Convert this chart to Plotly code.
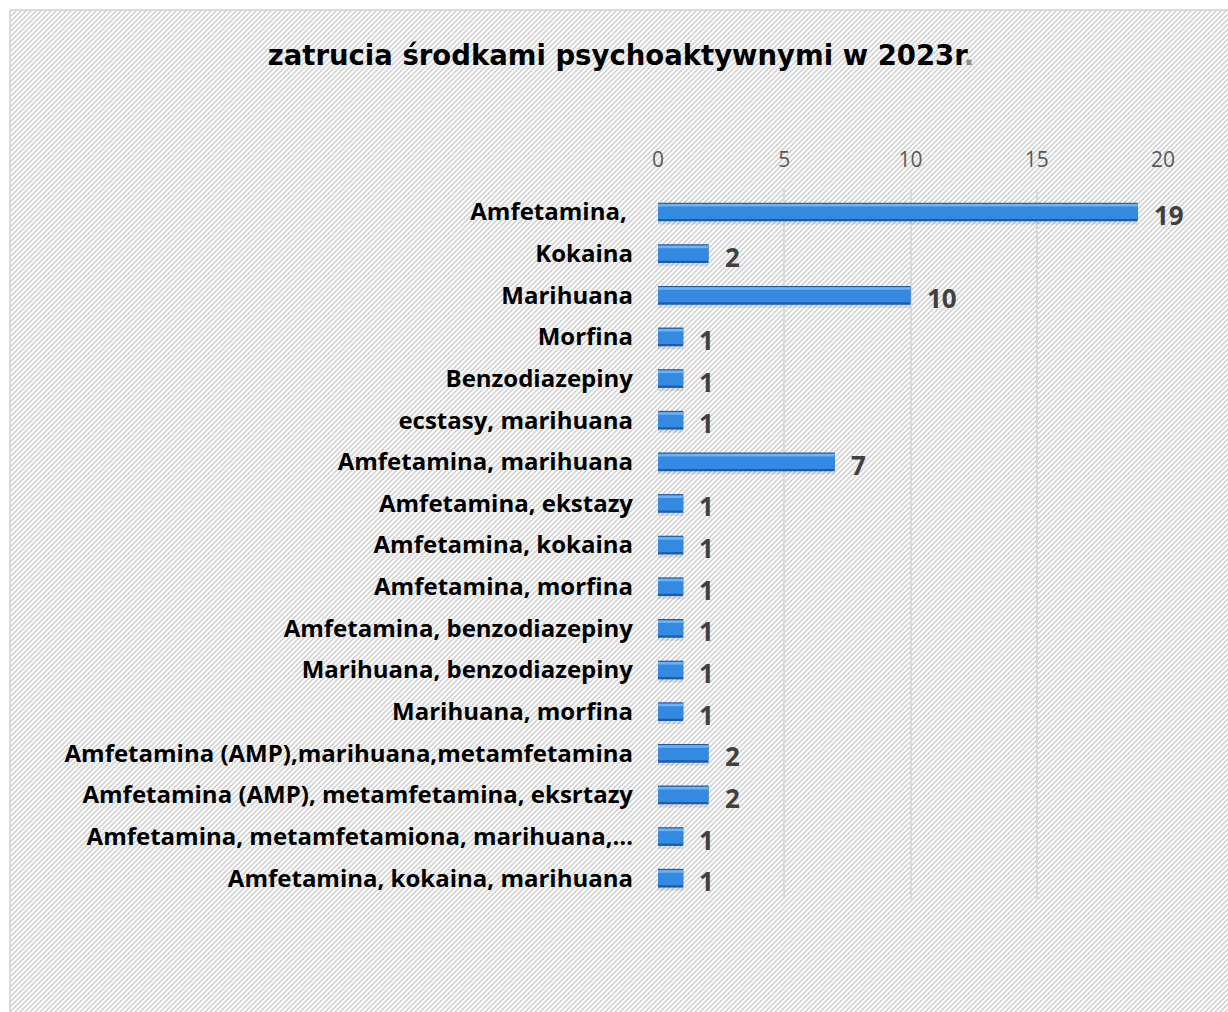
import base64
import plotly.graph_objects as go

# Poisoning cases by psychoactive substance, 2023
categories = [
    "Amfetamina,\u00a0",
    "Kokaina",
    "Marihuana",
    "Morfina",
    "Benzodiazepiny",
    "ecstasy, marihuana",
    "Amfetamina, marihuana",
    "Amfetamina, ekstazy",
    "Amfetamina, kokaina",
    "Amfetamina, morfina",
    "Amfetamina, benzodiazepiny",
    "Marihuana, benzodiazepiny",
    "Marihuana, morfina",
    "Amfetamina (AMP),marihuana,metamfetamina",
    "Amfetamina (AMP), metamfetamina, eksrtazy",
    "Amfetamina, metamfetamiona, marihuana,…",
    "Amfetamina, kokaina, marihuana",
]
counts = [19, 2, 10, 1, 1, 1, 7, 1, 1, 1, 1, 1, 1, 2, 2, 1, 1]
tick_values = [0, 5, 10, 15, 20]

W, H = 1228, 1012
M_L, M_R, M_T, M_B = 658, 65, 189, 113
PW, PH = W - M_L - M_R, H - M_T - M_B


def px_x(px):
    return (px - M_L) / PW


def px_y(py):
    return 1 - (py - M_T) / PH


# Diagonal hatch used as the chart-area background (runs past the page edges)
hx0, hy0 = 11, 11
hw, hh = W + 30 - hx0, H + 30 - hy0
svg = (
    f'<svg xmlns="http://www.w3.org/2000/svg" width="{hw}" height="{hh}">'
    '<defs><pattern id="h" width="5" height="5" patternUnits="userSpaceOnUse">'
    '<path d="M0,5 L5,0 M-1,1 L1,-1 M4,6 L6,4" stroke="#cdcdcd" stroke-width="1.5"/>'
    '</pattern></defs>'
    f'<rect width="{hw}" height="{hh}" fill="#ffffff"/>'
    f'<rect width="{hw}" height="{hh}" fill="url(#h)"/>'
    '</svg>'
)
hatch_uri = "data:image/svg+xml;base64," + base64.b64encode(svg.encode()).decode()

fig = go.Figure()

# soft drop shadow
fig.add_trace(go.Bar(
    x=counts, y=categories, orientation="h",
    width=0.5, offset=-0.2,
    marker=dict(color="rgba(0,0,0,0.10)", line=dict(width=0)),
    hoverinfo="skip", showlegend=False,
))
# dark bevel edge
fig.add_trace(go.Bar(
    x=counts, y=categories, orientation="h",
    width=0.45, offset=-0.225,
    marker=dict(color="#1d5ba6", line=dict(width=0)),
    showlegend=False,
))
# main face
fig.add_trace(go.Bar(
    x=counts, y=categories, orientation="h",
    width=0.37, offset=-0.2,
    marker=dict(color="#3489e0", line=dict(width=0)),
    hoverinfo="skip", showlegend=False,
))
# top highlight
fig.add_trace(go.Bar(
    x=counts, y=categories, orientation="h",
    width=0.06, offset=-0.19,
    marker=dict(color="#6db3f3", line=dict(width=0)),
    hoverinfo="skip", showlegend=False,
))

annotations = [
    dict(
        x=v, y=c, xref="x", yref="y", text=str(v),
        showarrow=False, xanchor="left", yanchor="middle",
        xshift=14, yshift=-3,
        font=dict(family="Open Sans", size=26, color="#404040", weight="bold"),
    )
    for c, v in zip(categories, counts)
]

fig.update_layout(
    width=W, height=H,
    margin=dict(l=M_L, r=M_R, t=M_T, b=M_B, autoexpand=False),
    paper_bgcolor="#ffffff",
    plot_bgcolor="rgba(0,0,0,0)",
    barmode="overlay",
    title=dict(
        text="zatrucia środkami psychoaktywnymi w 2023r<span style='color:#8c8c8c'>.</span>",
        x=621 / W, xanchor="center", xref="container",
        y=1 - 55 / H, yanchor="middle", yref="container",
        font=dict(family="DejaVu Sans", size=27.5, color="#000000", weight="bold"),
    ),
    xaxis=dict(
        side="top", range=[0, 20], tickvals=tick_values,
        showgrid=True, gridcolor="#d9d9d9", gridwidth=2,
        zeroline=False, showline=False, ticks="",
        ticklabelstandoff=17,
        tickfont=dict(family="Open Sans", size=21, color="#595959"),
        fixedrange=True,
    ),
    yaxis=dict(
        autorange="reversed", showgrid=False, zeroline=False, showline=False,
        ticks="", ticklabelstandoff=24,
        tickfont=dict(family="Open Sans", size=24, color="#000000", weight="bold"),
        fixedrange=True,
    ),
    images=[dict(
        source=hatch_uri, xref="paper", yref="paper",
        x=px_x(hx0), y=px_y(hy0), sizex=hw / PW, sizey=hh / PH,
        xanchor="left", yanchor="top", sizing="stretch", layer="below",
    )],
    shapes=[
        dict(type="line", xref="paper", yref="paper",
             x0=px_x(10), y0=px_y(10), x1=px_x(W + 5), y1=px_y(10),
             line=dict(color="#d9d9d9", width=2), layer="above"),
        dict(type="line", xref="paper", yref="paper",
             x0=px_x(10), y0=px_y(10), x1=px_x(10), y1=px_y(H + 5),
             line=dict(color="#d9d9d9", width=2), layer="above"),
    ],
    annotations=annotations,
    bargap=0.55,
)

fig.write_html("out.html")
